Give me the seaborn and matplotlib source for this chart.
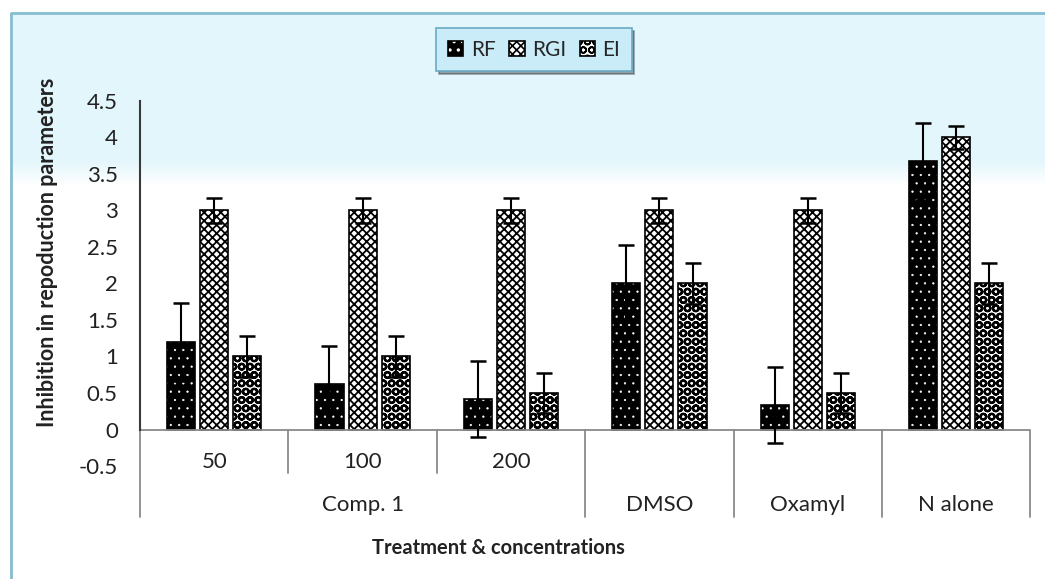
import numpy as np
import pandas as pd
import matplotlib
matplotlib.use("Agg")
import matplotlib.pyplot as plt
import matplotlib.transforms as mtransforms
import seaborn as sns

# ----------------------------------------------
# Data
# ----------------------------------------------
categories = ["50", "100", "200", "DMSO", "Oxamyl", "N alone"]
level1_labels = ["50", "100", "200", "", "", ""]
group_labels = ["Comp. 1", "DMSO", "Oxamyl", "N alone"]
group_spans = [(0, 2), (3, 3), (4, 4), (5, 5)]
params = ["RF", "RGI", "EI"]

rf = [1.2, 0.63, 0.42, 2.0, 0.33, 3.67]
rf_err = [0.53, 0.52, 0.52, 0.53, 0.52, 0.53]
rgi = [3.0, 3.0, 3.0, 3.0, 3.0, 4.0]
rgi_err = [0.17, 0.17, 0.17, 0.17, 0.17, 0.16]
ei = [1.0, 1.0, 0.5, 2.0, 0.5, 2.0]
ei_err = [0.28, 0.28, 0.28, 0.28, 0.28, 0.28]

df = pd.DataFrame({
    "Treatment": categories * 3,
    "Parameter": np.repeat(params, len(categories)),
    "Value": rf + rgi + ei,
})
errors = {"RF": rf_err, "RGI": rgi_err, "EI": ei_err}

# ----------------------------------------------
# Style
# ----------------------------------------------
sns.set_style("white")
plt.rcParams["font.family"] = ["Lato", "DejaVu Sans"]
plt.rcParams["hatch.linewidth"] = 1.2

fig = plt.figure(figsize=(10.45, 5.79), dpi=100)
fig.patch.set_facecolor("white")

# light blue panel with gradient at the top
bg = fig.add_axes([0, 0, 1, 1], zorder=-5)
bg.set_xlim(0, 1045)
bg.set_ylim(579, 0)
bg.axis("off")
rows = np.linspace(13, 579, 300)
fade = np.clip((rows - 160) / 25, 0, 1)[:, None]
top_col = np.array([0.89, 0.965, 0.99])
grad = top_col * (1 - fade) + np.array([1, 1, 1]) * fade
bg.imshow(grad[:, None, :], extent=[11, 1045, 579, 13], aspect="auto")
bg.plot([11, 11, 1045], [579, 13, 13], color="#86bdd0", lw=2)

ax = fig.add_axes([0.134, 0.195, 0.852, 0.631])
ax.patch.set_alpha(0)

sns.barplot(data=df, x="Treatment", y="Value", hue="Parameter",
            order=categories, hue_order=params, width=0.67, gap=0.15,
            errorbar=None, palette=["black", "white", "white"],
            saturation=1, edgecolor="black", linewidth=1.2,
            legend=False, ax=ax)

hatches = {"RF": "..", "RGI": "xxxx", "EI": "OO"}
hatch_lw = {"RF": 0.4, "RGI": 1.3, "EI": 1.6}
for param, cont in zip(params, ax.containers):
    for p in cont:
        p.set_hatch(hatches[param])
        p.set_edgecolor("black")
        try:
            p.set_hatch_linewidth(hatch_lw[param])
        except AttributeError:
            p._hatch_linewidth = hatch_lw[param]
        if param == "RF":
            try:
                p.set_hatchcolor("white")
            except AttributeError:
                p._hatch_color = (1, 1, 1, 1)
    xs = [p.get_x() + p.get_width() / 2 for p in cont]
    ys = [p.get_height() for p in cont]
    ax.errorbar(xs, ys, yerr=errors[param], fmt="none", ecolor="black",
                elinewidth=1.5, capsize=6, capthick=1.8, zorder=4)

# ----------------------------------------------
# Axes
# ----------------------------------------------
ax.set_xlim(-0.5, len(categories) - 0.5)
ax.set_ylim(-0.5, 4.5)
ax.set_yticks(np.arange(-0.5, 4.51, 0.5))
ax.set_yticklabels([f"{v:g}" for v in np.arange(-0.5, 4.51, 0.5)])
ax.tick_params(axis="y", length=0, pad=16, labelsize=16, colors="#222222")
ax.set_xticks([])
ax.set_xlabel("")
for s in ["top", "right", "bottom"]:
    ax.spines[s].set_visible(False)
ax.spines["left"].set_bounds(0, 4.5)
ax.spines["left"].set_color("#3a3a3a")
ax.spines["left"].set_linewidth(1.5)
ax.axhline(0, color="#8a8a8a", lw=1.3, zorder=1)

# multi-level category axis
trans = mtransforms.blended_transform_factory(ax.transData, ax.transAxes)
zero_frac = 0.5 / 5.0
for i, lab in enumerate(level1_labels):
    ax.text(i, 0.011, lab, transform=trans, ha="center", va="center",
            fontsize=16, color="#222222")
for lab, (a, b) in zip(group_labels, group_spans):
    ax.text((a + b) / 2, -0.107, lab, transform=trans, ha="center",
            va="center", fontsize=16, color="#222222")
for edge in np.arange(-0.5, len(categories), 1.0):
    short = edge in (0.5, 1.5)
    ax.plot([edge, edge], [zero_frac, -0.019 if short else -0.14],
            transform=trans, color="#8a8a8a", lw=1.3, clip_on=False)

ax.set_ylabel("Inhibition in repoduction parameters", fontsize=15.5,
              fontweight="bold", color="#222222")
ax.yaxis.set_label_coords(-0.092, 0.586)
fig.text(498 / 1045, 1 - 548 / 579, "Treatment & concentrations",
         ha="center", va="center", fontsize=14.5, fontweight="bold",
         color="#222222")

handles = [cont[0] for cont in ax.containers]
leg = fig.legend(handles, params, loc="center", bbox_to_anchor=(0.511, 0.914),
                 ncol=3, frameon=True, fancybox=False, shadow=True,
                 facecolor="#c9ecf8", edgecolor="#6aaac4", fontsize=15,
                 handlelength=0.75, handleheight=0.75, handletextpad=0.35,
                 columnspacing=0.65, borderpad=0.55)
leg.get_frame().set_linewidth(1.2)

fig.savefig("out.png", dpi=100)
